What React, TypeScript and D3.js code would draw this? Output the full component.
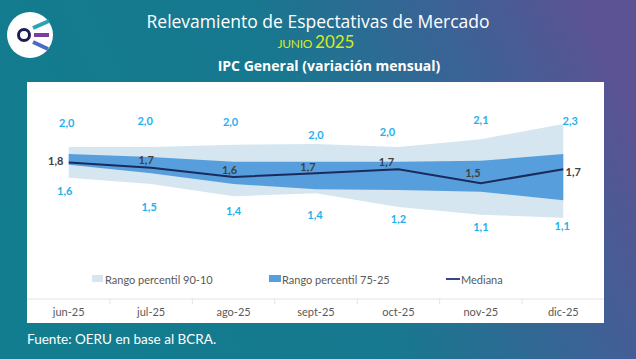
import * as d3 from 'd3';

const months = ['jun-25', 'jul-25', 'ago-25', 'sept-25', 'oct-25', 'nov-25', 'dic-25'];
const p90 = [2.0, 2.0, 2.03, 2.04, 2.0, 2.1, 2.3];
const p75 = [1.91, 1.87, 1.81, 1.81, 1.81, 1.82, 1.91];
const median = [1.8, 1.73, 1.61, 1.66, 1.71, 1.53, 1.71];
const p25 = [1.77, 1.66, 1.52, 1.45, 1.44, 1.42, 1.31];
const p10 = [1.6, 1.52, 1.36, 1.4, 1.22, 1.12, 1.08];

// label nudges (px) as placed in the original chart
const topNudge = [[-2, -25], [-6, -27], [-3, -23], [0, -9], [-11, -16], [0, -20], [7, -3]];
const botNudge = [[-4, 13], [-2, 23], [0, 14], [-1, 21], [0, 11], [0, 12], [-1, 8]];
const medNudge = [[-13, -2], [-5, -8], [-4, -8], [-8, -7], [-12, -8], [-8, -11], [10, 2]];

const W = 636;
const H = 359;
const panel = { left: 27, right: 604, top: 82, bottom: 323 };
const axisY = 299;

const fmt = (v: number) => d3.format('.1f')(v).replace('.', ',');

export default function App() {
  const x = d3.scaleBand<string>().domain(months).range([panel.left + 0.5, panel.right + 0.5]);
  const cx = (i: number) => (x(months[i]) ?? 0) + x.bandwidth() / 2;
  const y = d3.scaleLinear().domain([0.8, 2.6]).range([239.4, 100.8]);

  const idx = months.map((_, i) => i);
  const outer = d3
    .area<number>()
    .x((i) => cx(i))
    .y0((i) => y(p10[i]))
    .y1((i) => y(p90[i]));
  const inner = d3
    .area<number>()
    .x((i) => cx(i))
    .y0((i) => y(p25[i]))
    .y1((i) => y(p75[i]));
  const line = d3
    .line<number>()
    .x((i) => cx(i))
    .y((i) => y(median[i]));

  const tickXs = months.slice(1).map((m) => x(m) ?? 0);
  const labelFont = 'Lato, "Open Sans", sans-serif';

  return (
    <svg width={W} height={H} style={{ position: 'absolute', left: 0, top: 0 }} fontFamily={labelFont}>
      <defs>
        <linearGradient id="bg" x1="0" y1="0.6" x2="1" y2="0.35">
          <stop offset="0" stopColor="#127d8e" />
          <stop offset="0.5" stopColor="#17788f" />
          <stop offset="0.78" stopColor="#3a6396" />
          <stop offset="1" stopColor="#5b5393" />
        </linearGradient>
      </defs>
      <rect width={W} height={H} fill="url(#bg)" />

      {/* logo */}
      <g>
        <circle cx={30} cy={35} r={23} fill="#ffffff" />
        <line x1={33} y1={28} x2={49} y2={21} stroke="#2aa3b3" strokeWidth={4} />
        <line x1={34} y1={35} x2={49} y2={35} stroke="#7a3e9e" strokeWidth={4} />
        <line x1={33} y1={42} x2={48} y2={49} stroke="#4a6cc2" strokeWidth={4} />
        <circle cx={24} cy={35} r={5.5} fill="#ffffff" stroke="#1d1d55" strokeWidth={3} />
      </g>

      <text x={318} y={28} textAnchor="middle" fill="#ffffff" fontSize={17.5} fontFamily='"Open Sans", sans-serif'>
        Relevamiento de Espectativas de Mercado
      </text>
      <text x={316} y={48} textAnchor="middle" fill="#d4ec1c" fontFamily="Lato, sans-serif">
        <tspan fontSize={12} letterSpacing={-0.3}>JUNIO</tspan>
        <tspan fontSize={17} dx={3}>2025</tspan>
      </text>
      <text x={329} y={71} textAnchor="middle" fill="#ffffff" fontSize={14} fontWeight={700} fontFamily='"Open Sans", sans-serif'>
        IPC General (variación mensual)
      </text>

      <rect x={panel.left} y={panel.top} width={panel.right - panel.left} height={panel.bottom - panel.top} fill="#ffffff" />

      <path d={outer(idx) ?? ''} fill="#d5e6f1" />
      <path d={inner(idx) ?? ''} fill="#579fdc" />
      <path d={line(idx) ?? ''} fill="none" stroke="#1b2a5c" strokeWidth={2} />

      {idx.map((i) => (
        <g key={i} fontSize={11} fontWeight={700} textAnchor="middle" dominantBaseline="central">
          <text x={cx(i) + topNudge[i][0]} y={y(p90[i]) + topNudge[i][1]} fill="#1eb1ee">
            {fmt(p90[i])}
          </text>
          <text x={cx(i) + botNudge[i][0]} y={y(p10[i]) + botNudge[i][1]} fill="#1eb1ee">
            {fmt(p10[i])}
          </text>
          <text x={cx(i) + medNudge[i][0]} y={y(median[i]) + medNudge[i][1]} fill="#404040">
            {fmt(median[i])}
          </text>
        </g>
      ))}

      {/* legend */}
      <g fontSize={11} fill="#595959" dominantBaseline="central">
        <rect x={92} y={275} width={11} height={7} fill="#d5e6f1" />
        <text x={105} y={279}>Rango percentil 90-10</text>
        <rect x={269} y={275} width={12} height={7} fill="#579fdc" />
        <text x={282} y={279}>Rango percentil 75-25</text>
        <line x1={446} x2={460} y1={279} y2={279} stroke="#2f4a86" strokeWidth={2} />
        <text x={461} y={279}>Mediana</text>
      </g>

      {/* x axis */}
      <line x1={panel.left} x2={panel.right} y1={axisY} y2={axisY} stroke="#e3e3e3" />
      {tickXs.map((tx, i) => (
        <line key={i} x1={tx} x2={tx} y1={axisY} y2={axisY + 5} stroke="#e3e3e3" />
      ))}
      {months.map((m, i) => (
        <text key={m} x={cx(i)} y={311} textAnchor="middle" dominantBaseline="central" fontSize={11} fill="#595959">
          {m}
        </text>
      ))}

      <text x={27} y={344} fill="#ffffff" fontSize={13.5}>
        Fuente: OERU en base al BCRA.
      </text>
    </svg>
  );
}
